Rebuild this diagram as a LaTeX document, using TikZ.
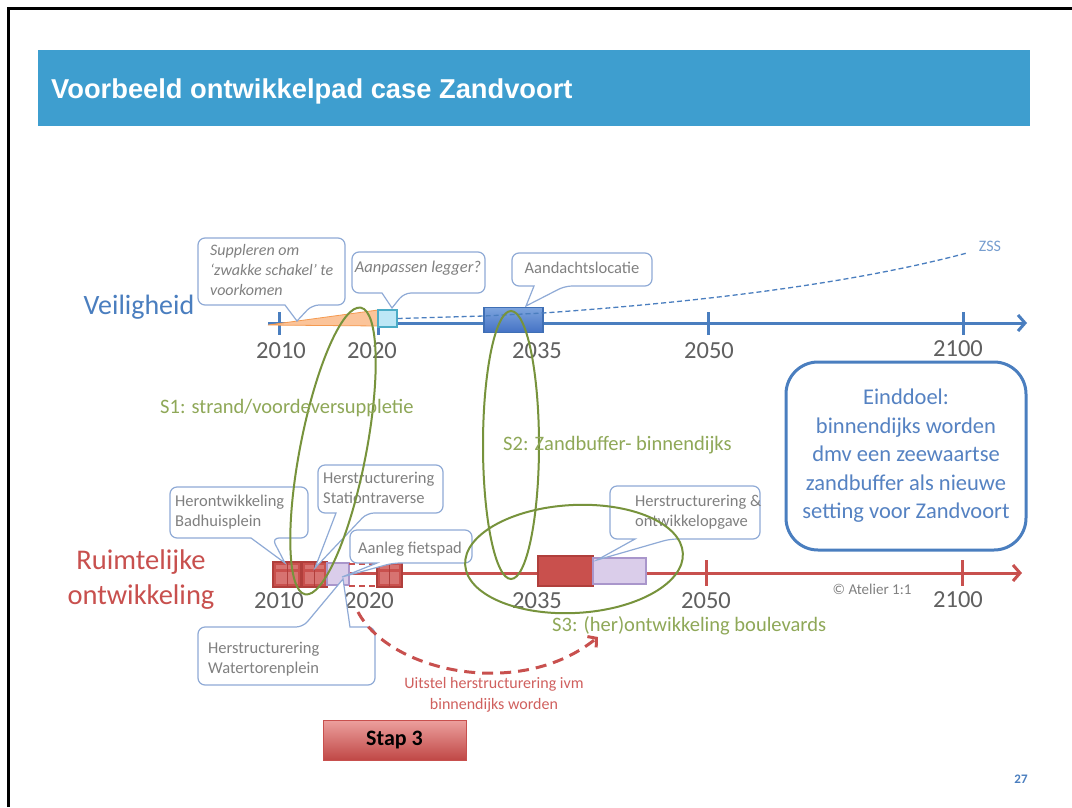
\documentclass[tikz,border=0pt]{standalone}
\usepackage{fontspec}
\setmainfont{Carlito}
\newfontfamily\headfont{Liberation Sans}
\usetikzlibrary{arrows.meta}

\definecolor{titleblue}{HTML}{3E9ECF}
\definecolor{axisblue}{HTML}{4A7EBF}
\definecolor{axisred}{HTML}{C8504E}
\definecolor{olive}{HTML}{77933C}
\definecolor{olivetext}{HTML}{8FA858}
\definecolor{bubbleedge}{HTML}{8FAAD6}
\definecolor{bubbletext}{HTML}{808080}
\definecolor{yeargray}{HTML}{606060}
\definecolor{goalblue}{HTML}{5582C2}
\definecolor{blockred}{HTML}{C9504D}
\definecolor{blockdark}{HTML}{B03F3C}
\definecolor{blocklight}{HTML}{D77371}
\definecolor{lilac}{HTML}{DACDEA}
\definecolor{lilacedge}{HTML}{A996CB}
\definecolor{uitstelred}{HTML}{D0605E}

\tikzset{
  axisV/.style={draw=axisblue, line width=3pt},
  axisR/.style={draw=axisred, line width=3pt},
  bubble/.style={draw=bubbleedge, line width=1.2pt, fill=white},
  bubbletxt/.style={text=bubbletext, font=\fontsize{16.5}{20}\selectfont, align=left, anchor=west, inner sep=0pt},
  year/.style={text=yeargray, font=\fontsize{24.5}{26}\selectfont, inner sep=0pt},
  sline/.style={draw=olive, line width=2pt},
  stxt/.style={text=olivetext, font=\fontsize{20.5}{22}\selectfont, anchor=west, inner sep=0pt},
  redblock/.style={fill=blockred, draw=blockdark, line width=1.5pt},
  lilacblock/.style={fill=lilac, draw=lilacedge, line width=1.2pt},
  barb/.style={-{Straight Barb[length=7pt,width=16pt]}},
}

% speech bubble, pointer leaving the bottom edge
\newcommand\bubbledown[7]{%
  \draw[bubble] (#7) -- (#5,#4) [rounded corners=7pt] -- (#1,#4) -- (#1,#2) -- (#3,#2) -- (#3,#4) -- (#6,#4) [sharp corners] -- cycle;}
% speech bubble, pointer leaving the top edge
\newcommand\bubbleup[7]{%
  \draw[bubble] (#7) -- (#6,#2) [rounded corners=7pt] -- (#3,#2) -- (#3,#4) -- (#1,#4) -- (#1,#2) -- (#5,#2) [sharp corners] -- cycle;}

\begin{document}
\begin{tikzpicture}[x=1pt,y=-1pt]
\useasboundingbox (0,0) rectangle (1072,807);
\fill[white] (0,0) rectangle (1072,807);

% slide frame
\draw[line width=3pt, black] (8.5,807) -- (8.5,8.5) -- (1072,8.5);

% title bar
\fill[titleblue] (38,50) rectangle (1030,126);
\node[anchor=west, text=white, font=\headfont\bfseries\fontsize{27.3}{30}\selectfont, inner sep=0pt] (title) at (51,91) {Voorbeeld ontwikkelpad case Zandvoort};

% ---------- Veiligheid timeline ----------
\node[text=axisblue, font=\fontsize{28}{30}\selectfont, inner sep=0pt] (veil) at (139,307) {Veiligheid};
\coordinate (v0) at (268,323);
\coordinate (v1) at (1027,323);
\draw[axisV, barb] (v0) -- (v1);
\foreach \x in {279,378,708,963} \draw[axisV] (\x,312) -- (\x,335);

\node[year] (y10) at (281,351) {2010};
\node[year] (y20) at (372,351) {2020};
\node[year] (y35) at (537,351) {2035};
\node[year] (y50) at (709,351) {2050};
\node[year] (y00) at (958,349) {2100};

% suppletion wedge
\fill[fill={rgb,255:red,251;green,196;blue,154}, draw={rgb,255:red,245;green,154;blue,80}, line width=0.8pt]
  (268,325) -- (378,310) -- (378,326) -- cycle;
% adjusted legger
\node[draw={rgb,255:red,75;green,172;blue,198}, fill={rgb,255:red,189;green,231;blue,246}, line width=1.2pt,
      minimum width=19pt, minimum height=17pt, inner sep=0pt] (legger) at (387.5,318.5) {};
% attention location
\node[draw={rgb,255:red,63;green,111;blue,181}, top color={rgb,255:red,125;green,164;blue,222}, bottom color={rgb,255:red,68;green,114;blue,196},
      line width=1.2pt, minimum width=59pt, minimum height=25pt, inner sep=0pt] (aand) at (513.5,320) {};

% ZSS trend line
\draw[axisblue, line width=1.3pt, dash pattern=on 5pt off 3pt]
  (legger.east) -- (484,316) -- (543,313) .. controls (700,302) and (850,284) .. (967,253);
\node[text=axisblue!75, font=\fontsize{16}{17}\selectfont, inner sep=0pt] (zss) at (990,246) {ZSS};

% callouts along the upper timeline
\bubbledown{198}{238}{345}{305}{285}{312}{297,321}
\node[bubbletxt, font=\itshape\fontsize{16}{20}\selectfont] (supp) at (210,270) {Suppleren om\\‘zwakke schakel’ te\\voorkomen};
\bubbledown{352}{252}{485}{293}{382}{404}{392,308}
\node[bubbletxt, font=\itshape\fontsize{16.5}{20}\selectfont, anchor=center] (leg) at (418,268) {Aanpassen legger?};
\bubbledown{512}{253}{652}{286}{534}{565}{526,306}
\node[bubbletxt, anchor=center] (aandt) at (582,268) {Aandachtslocatie};

% ---------- Ruimtelijke ontwikkeling timeline ----------
\node[text=axisred, font=\fontsize{28.5}{35}\selectfont, align=center, inner sep=0pt] (ruim) at (141,580) {Ruimtelijke\\ontwikkeling};
\coordinate (r0) at (273,573);
\coordinate (r1) at (1022,573);
\draw[axisR, barb] (r0) -- (r1);
\foreach \x in {706,962} \draw[axisR] (\x,560) -- (\x,586);

\node[year] (b10) at (279,601) {2010};
\node[year] (b20) at (369,601) {2020};
\node[year] (b35) at (537,601) {2035};
\node[year] (b50) at (706,601) {2050};
\node[year] (b00) at (958,600) {2100};
\node[text=gray, font=\fontsize{15}{16}\selectfont, inner sep=0pt] (copy) at (872,589) {© Atelier 1:1};

% project blocks
\foreach \a/\b in {273/301,302/327,377/402}{
  \draw[redblock] (\a,562) rectangle (\b,587);
  \fill[blocklight] (\a+3,565) rectangle (\b-3,569);
  \fill[blocklight] (\a+3,572) rectangle (\b-3,584);
  \draw[blockdark, line width=1pt] (\a/2+\b/2,562) -- (\a/2+\b/2,587);
}
\draw[lilacblock] (327,563) rectangle (349,585);
\draw[axisred, line width=2pt, dash pattern=on 6pt off 4pt] (349,564) -- (377,564);
\draw[axisred, line width=2pt, dash pattern=on 6pt off 4pt] (349,586) -- (377,586);
\node[redblock, minimum width=55pt, minimum height=30pt, inner sep=0pt] (boul) at (565.5,571) {};
\node[lilacblock, minimum width=53pt, minimum height=26pt, inner sep=0pt] (opg) at (619.5,571) {};

% callouts along the lower timeline
\bubbledown{170}{487}{308}{538}{251}{272}{285,563}
\node[bubbletxt] (badh) at (175,512) {Herontwikkeling\\Badhuisplein};
\bubbledown{318}{465}{443}{513}{336}{367}{315,568}
\node[bubbletxt] (stat) at (323,487.5) {Herstructurering\\Stationtraverse};
\bubbledown{350}{530}{472}{563}{377}{393}{342,577}
\node[bubbletxt, anchor=center] (fiets) at (410,549) {Aanleg fietspad};
\bubbleup{198}{627}{375}{685}{303}{350}{343,579}
\node[bubbletxt] (water) at (208,659) {Herstructurering\\Watertorenplein};
\bubbledown{610}{486}{760}{539}{635}{670}{597,560}
\node[bubbletxt] (hers) at (635,512.5) {Herstructurering \&\\ontwikkelopgave};

% strategy ellipses
\draw[sline, rotate around={-11:(333,451)}] (333,451) ellipse [x radius=33, y radius=146];
\draw[sline] (511,445) ellipse [x radius=28, y radius=134];
\draw[sline, rotate around={3:(574,559)}] (574,559) ellipse [x radius=109, y radius=54];
\node[stxt] (s1) at (160,408) {S1: strand/voordeversuppletie};
\node[stxt] (s2) at (503,445) {S2: Zandbuffer- binnendijks};
\node[stxt] (s3) at (552,626) {S3: (her)ontwikkeling boulevards};

% end goal
\node[draw=axisblue, line width=3pt, rounded corners=32pt, minimum width=240pt, minimum height=188pt,
      text=goalblue, font=\fontsize{22.5}{28.5}\selectfont, align=center, inner sep=0pt] (goal) at (906,456)
  {Einddoel:\\binnendijks worden\\dmv een zeewaartse\\zandbuffer als nieuwe\\setting voor Zandvoort};

% postponement
\coordinate (u0) at (358,612);
\coordinate (u1) at (598,637);
\draw[axisred, line width=3pt, dash pattern=on 11pt off 7pt, -{Straight Barb[length=6pt,width=14pt]}]
  (u0) .. controls (390,672) and (520,700) .. (u1);
\node[text=uitstelred, font=\fontsize{16}{21}\selectfont, align=center, inner sep=0pt] (uit) at (494,694.5)
  {Uitstel herstructurering ivm\\binnendijks worden};

% step marker
\node[draw=axisred, line width=1pt, top color={rgb,255:red,236;green,160;blue,158}, bottom color={rgb,255:red,192;green,72;blue,70},
      minimum width=143pt, minimum height=40pt, inner sep=0pt, font=\bfseries\fontsize{22}{24}\selectfont] (stap) at (394.5,740) {Stap 3};

% page number
\node[text=axisblue, font=\bfseries\fontsize{13}{14}\selectfont, inner sep=0pt] (page) at (1021,779) {27};
\end{tikzpicture}
\end{document}
